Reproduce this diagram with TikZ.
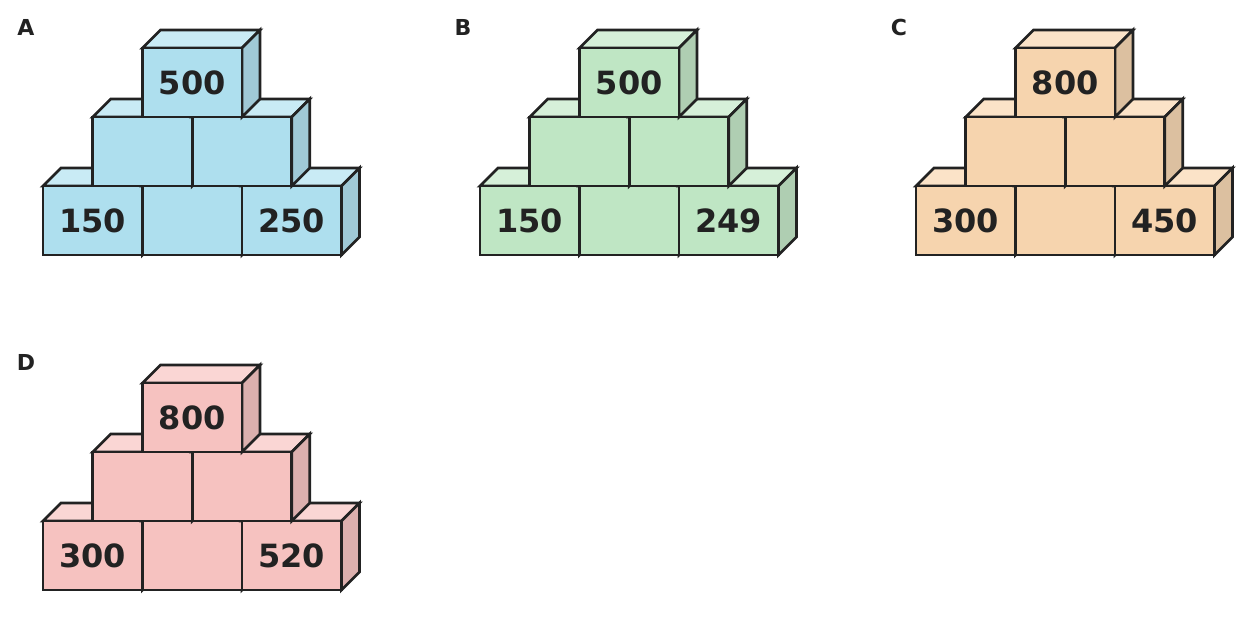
\documentclass[tikz,border=0pt]{standalone}
\usepackage{fontspec}
\setmainfont{DejaVu Sans}
\usepackage{tikz}

\definecolor{ink}{HTML}{222222}
\definecolor{blueFront}{HTML}{AEDFEE}
\definecolor{blueTop}{HTML}{C9EBF5}
\definecolor{blueSide}{HTML}{A0C9D6}
\definecolor{greenFront}{HTML}{BFE6C4}
\definecolor{greenTop}{HTML}{D6F0D9}
\definecolor{greenSide}{HTML}{AFCEB2}
\definecolor{orangeFront}{HTML}{F6D4AE}
\definecolor{orangeTop}{HTML}{FBE3C8}
\definecolor{orangeSide}{HTML}{DCC0A0}
\definecolor{pinkFront}{HTML}{F6C2C0}
\definecolor{pinkTop}{HTML}{FAD6D4}
\definecolor{pinkSide}{HTML}{DCB0AE}

% one brick: front top-left corner, colour prefix
\newcommand{\brick}[3]{%
  \filldraw[fill=#3Top] (#1,#2) -- ++(18,-18) -- ++(99.5,0) -- ++(-18,18) -- cycle;
  \filldraw[fill=#3Side] (#1+99.5,#2) -- ++(18,-18) -- ++(0,69) -- ++(-18,18) -- cycle;
  \filldraw[fill=#3Front] (#1,#2) rectangle ++(99.5,69);}

% shift, colour, left, right, top, name
\newcommand{\pyramid}[7]{%
  \begin{scope}[shift={(#1,#2)}]
    \foreach \i in {0,1,2} {\brick{43+\i*99.5}{186}{#3}}
    \foreach \i in {0,1} {\brick{92.75+\i*99.5}{117}{#3}}
    \brick{142.5}{48}{#3}
    \node[num] (#7left) at (92.75,220.5) {#4};
    \node[num] (#7right) at (291.75,220.5) {#5};
    \node[num] (#7top) at (192.25,82.5) {#6};
  \end{scope}}

\begin{document}
\begin{tikzpicture}[x=1pt, y=-1pt, draw=ink, line width=2.7pt,
    num/.style={inner sep=0pt, text=ink, font=\fontsize{32}{32}\selectfont\bfseries},
    tag/.style={inner sep=0pt, text=ink, font=\fontsize{22}{22}\selectfont\bfseries}]
  \useasboundingbox (0,0) rectangle (1260,620);
  \pyramid{0}{0}{blue}{150}{250}{500}{a}
  \pyramid{437}{0}{green}{150}{249}{500}{b}
  \pyramid{873}{0}{orange}{300}{450}{800}{c}
  \pyramid{0}{335}{pink}{300}{520}{800}{d}
  \node[tag] (tagA) at (26,27) {A};
  \node[tag] (tagB) at (463,27) {B};
  \node[tag] (tagC) at (899,27) {C};
  \node[tag] (tagD) at (26,362) {D};
\end{tikzpicture}
\end{document}
